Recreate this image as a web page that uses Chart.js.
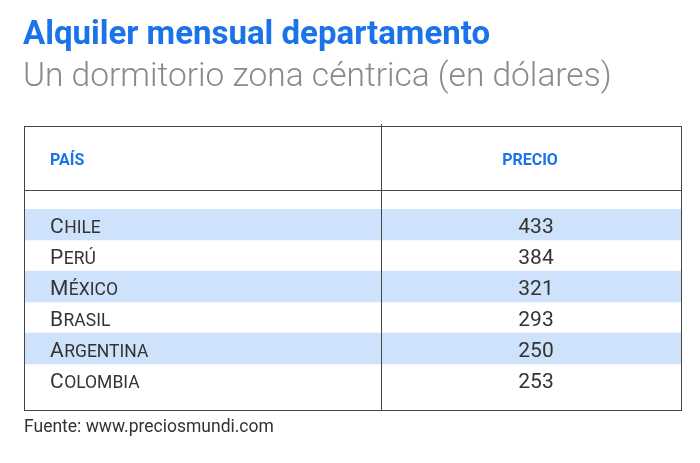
<!DOCTYPE html>
<html>
<head>
<meta charset="utf-8">
<script src="https://cdn.jsdelivr.net/npm/chart.js@4"></script>
<style>
  html, body { margin: 0; padding: 0; background: #fff; }
  #wrap { width: 700px; height: 463px; }
</style>
</head>
<body>
<div id="wrap"><canvas id="table"></canvas></div>
<script>
const countries = ["Chile", "Perú", "México", "Brasil", "Argentina", "Colombia"];
const prices = [433, 384, 321, 293, 250, 253];
const rowShade = [1, 0, 1, 0, 1, 0];

const BLUE = "#1a73e8";
const FONT = "Roboto, 'Noto Sans', sans-serif";

// small caps by hand: first letter full size, the rest uppercase smaller
function drawSmallCaps(ctx, text, x, y) {
  ctx.font = `21px ${FONT}`;
  ctx.fillText(text[0], x, y);
  const w = ctx.measureText(text[0]).width;
  ctx.font = `17.5px ${FONT}`;
  ctx.fillText(text.slice(1).toUpperCase(), x + w + 0.5, y);
}

const tablePlugin = {
  id: "tableText",
  afterDraw(chart) {
    const { ctx, chartArea, scales } = chart;
    const left = chartArea.left, right = chartArea.right;
    const top = 126, headerLine = 190, bottom = 410, mid = 381;
    ctx.save();

    ctx.textBaseline = "alphabetic";
    ctx.fillStyle = BLUE;
    ctx.font = `bold 33px ${FONT}`;
    ctx.fillText("Alquiler mensual departamento", 23, 44);
    ctx.fillStyle = "#8a8a8a";
    ctx.font = `300 33.5px ${FONT}`;
    ctx.fillText("Un dormitorio zona céntrica (en dólares)", 23, 86);

    ctx.strokeStyle = "#444";
    ctx.lineWidth = 1;
    ctx.strokeRect(left + 0.5, top + 0.5, right - left - 1, bottom - top);
    ctx.beginPath();
    ctx.moveTo(left, headerLine + 0.5); ctx.lineTo(right, headerLine + 0.5);
    ctx.moveTo(mid + 0.5, top - 2); ctx.lineTo(mid + 0.5, bottom);
    ctx.stroke();

    ctx.fillStyle = BLUE;
    ctx.font = `bold 16px ${FONT}`;
    ctx.textBaseline = "middle";
    ctx.fillText("PAÍS", 50, 161);
    ctx.textAlign = "center";
    ctx.fillText("PRECIO", 530, 161);

    ctx.fillStyle = "#333";
    countries.forEach((c, i) => {
      const y = scales.y.getPixelForValue(i) + 8;
      ctx.textAlign = "left";
      ctx.textBaseline = "alphabetic";
      drawSmallCaps(ctx, c, 50, y);
      ctx.textAlign = "center";
      ctx.font = `21px ${FONT}`;
      ctx.fillText(String(prices[i]), 536, y);
    });

    ctx.textAlign = "left";
    ctx.font = `17.5px ${FONT}`;
    ctx.fillText("Fuente: www.preciosmundi.com", 24, 432);
    ctx.restore();
  },
};

new Chart(document.getElementById("table"), {
  type: "bar",
  data: {
    labels: countries,
    datasets: [{
      data: rowShade,
      backgroundColor: "#cfe2fb",
      barPercentage: 1,
      categoryPercentage: 1,
      borderWidth: 0,
    }],
  },
  options: {
    indexAxis: "y",
    responsive: true,
    maintainAspectRatio: false,
    animation: false,
    layout: { padding: { left: 24, right: 18, top: 209, bottom: 68 } },
    plugins: { legend: { display: false }, tooltip: { enabled: false } },
    scales: {
      x: { display: false, min: 0, max: 1 },
      y: { display: false },
    },
  },
  plugins: [tablePlugin],
});
</script>
</body>
</html>
